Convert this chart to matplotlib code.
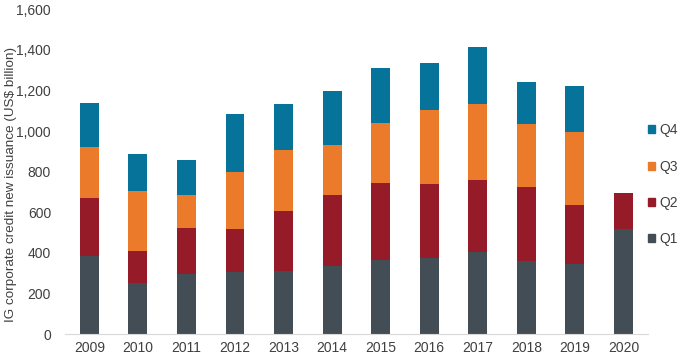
import matplotlib.pyplot as plt
import numpy as np
from matplotlib.patches import Patch

years = ["2009", "2010", "2011", "2012", "2013", "2014", "2015", "2016", "2017", "2018", "2019", "2020"]
q1 = [383, 251, 296, 307, 309, 338, 365, 373, 406, 360, 345, 517]
q2 = [289, 160, 225, 210, 297, 348, 377, 364, 354, 366, 292, 178]
q3 = [249, 295, 162, 281, 302, 247, 299, 368, 373, 310, 356, 0]
q4 = [217, 181, 176, 284, 225, 266, 271, 232, 279, 204, 227, 0]

series = [("Q1", q1, "#434d55"), ("Q2", q2, "#951b29"), ("Q3", q3, "#eb7b2b"), ("Q4", q4, "#06739a")]

plt.rcParams["font.family"] = ["Liberation Sans", "DejaVu Sans"]
fig = plt.figure(figsize=(6.8, 3.62), dpi=100)
ax = fig.add_axes([0.0956, 0.0765, 0.857, 0.8985])

x = np.arange(len(years))
bottom = np.zeros(len(years))
for name, vals, col in series:
    v = np.array(vals, dtype=float)
    ax.bar(x, v, bottom=bottom, width=0.39, color=col, label=name)
    bottom += v

ax.set_xlim(-0.5, len(years) - 0.5)
ax.set_ylim(0, 1600)
ax.set_yticks(range(0, 1601, 200))
ax.set_yticklabels([f"{t:,}" for t in range(0, 1601, 200)])
ax.set_xticks(x)
ax.set_xticklabels(years)
ax.tick_params(axis="both", length=0, labelsize=10, colors="#404040")
ax.tick_params(axis="y", pad=10)
ax.tick_params(axis="x", pad=5)
for s in ["top", "right", "left"]:
    ax.spines[s].set_visible(False)
ax.spines["bottom"].set_color("#d9d9d9")
ax.set_ylabel("IG corporate credit new issuance (US$ billion)", fontsize=9.7, color="#404040")
ax.yaxis.set_label_coords(-0.083, 0.46)

handles = [Patch(color=c, label=n) for n, _, c in series][::-1]
fig.legend(handles=handles, loc="center left", bbox_to_anchor=(0.945, 0.49), frameon=False,
           fontsize=10, handlelength=0.5, handleheight=0.5, handletextpad=0.3, labelspacing=1.6,
           labelcolor="#404040", borderaxespad=0)

fig.savefig("out.png", dpi=100)
